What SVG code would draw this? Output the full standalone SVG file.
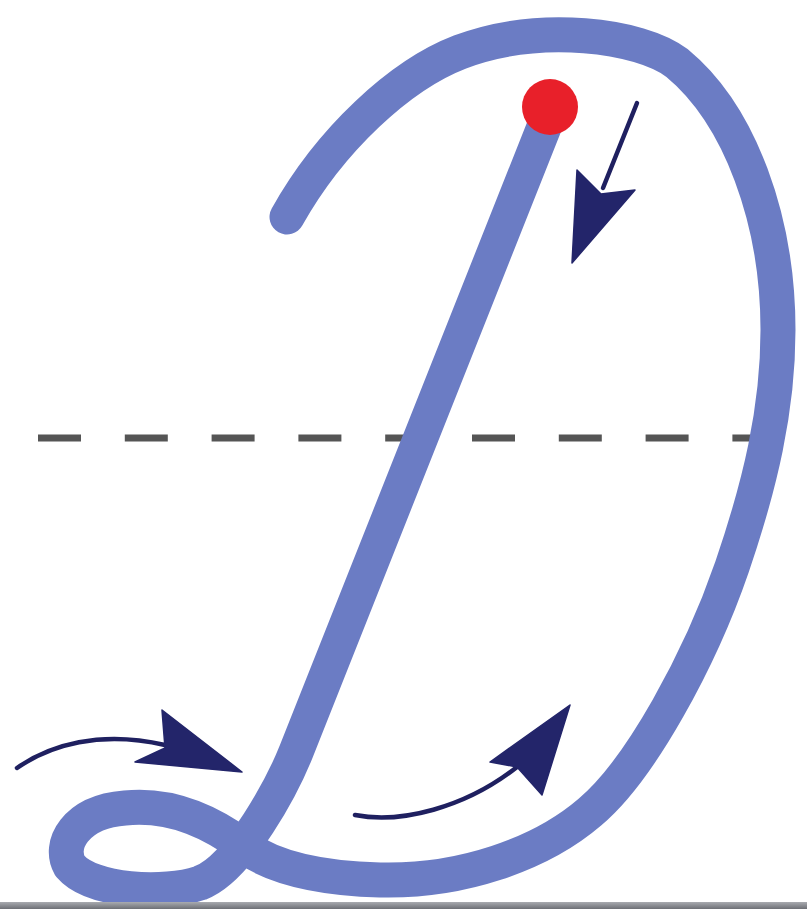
<svg xmlns="http://www.w3.org/2000/svg" width="807" height="909" viewBox="0 0 807 909">
  <defs>
    <linearGradient id="border" x1="0" y1="0" x2="0" y2="1">
      <stop offset="0" stop-color="#a9abb0"/>
      <stop offset="1" stop-color="#6d6f75"/>
    </linearGradient>
  </defs>
  <style>
    .guide { fill: none; stroke: #555555; stroke-width: 7; stroke-dasharray: 43 43.8; }
    .letter { fill: none; stroke: #6b7cc4; stroke-width: 35; stroke-linecap: round; stroke-linejoin: round; }
    .arrow-line { fill: none; stroke: #1f2060; stroke-width: 4.5; stroke-linecap: round; }
    .arrow-head { fill: #23256a; stroke: #23256a; stroke-width: 1.5; stroke-linejoin: round; }
  </style>
  <rect x="0" y="0" width="807" height="909" fill="#ffffff"/>

  <g id="guide-line">
    <line class="guide" x1="38" y1="438" x2="790" y2="438"/>
  </g>

  <g id="letter-D">
    <path class="letter" d="M 550 112 L 296 752 C 284 782 240 868 200 883 C 165 895 92 892 70 866 C 58 845 75 812 125 808 C 175 803 215 825 245 847 C 270 865 310 878 380 880 C 460 882 540 855 590 812 C 640 770 700 660 732 567 C 760 485 778 410 778 330 C 778 220 740 115 677 63 C 640 35 540 22 460 52 C 400 75 330 140 287 217"/>
  </g>

  <g id="start-dot">
    <circle cx="550" cy="107" r="28" fill="#e8202a"/>
  </g>

  <g id="connectors">
    <g id="arrow-down">
      <line class="arrow-line" x1="637" y1="103" x2="603" y2="188"/>
      <polygon class="arrow-head" points="577,170 601,194 635,190 572,263"/>
    </g>
    <g id="arrow-left">
      <path class="arrow-line" d="M 17 768 C 50 745 100 730 165 745"/>
      <polygon class="arrow-head" points="162,710 242,772 135,762 165,748"/>
    </g>
    <g id="arrow-right">
      <path class="arrow-line" d="M 355 815 C 400 824 465 808 517 767"/>
      <polygon class="arrow-head" points="490,762 517,767 542,795 570,705"/>
    </g>
  </g>

  <rect x="0" y="902" width="807" height="7" fill="url(#border)"/>
</svg>
